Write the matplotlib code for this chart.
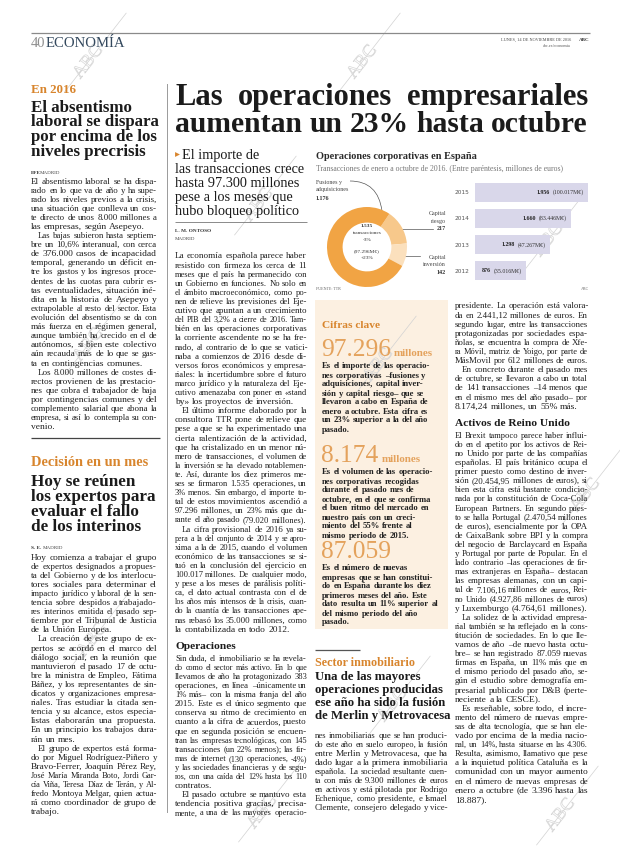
import math
import matplotlib
matplotlib.use("Agg")
import matplotlib.pyplot as plt
import matplotlib.patheffects as pe
from matplotlib.font_manager import FontProperties
from matplotlib.patches import Rectangle, PathPatch
from matplotlib.path import Path

# ------------------------------------------------------------------ data
donut_labels = ["Capital riesgo", "Capital inversión", "Fusiones y adquisiciones"]
donut_values = [217, 142, 1176]
donut_center = ["1.535", "transacciones", "-3%", "(97.296M€)", "+23%"]

bar_years = ["2012", "2013", "2014", "2015"]
bar_counts = [876, 1298, 1660, 1956]
bar_amounts = ["(35.016M€)", "(47.267M€)", "(83.446M€)", "(100.017M€)"]

chart_title = "Operaciones corporativas en España"
chart_subtitle = "Transacciones de enero a octubre de 2016. (Entre paréntesis, millones de euros)"

headline = ["Las operaciones empresariales", "aumentan un 23% hasta octubre"]
subhead = ["El importe de", "las transacciones crece", "hasta 97.300 millones",
           "pese a los meses que", "hubo bloqueo político"]

left1_kicker = "En 2016"
left1_head = ["El absentismo", "laboral se dispara", "por encima de los", "niveles precrisis"]
left1_paras = [
    ["El absentismo laboral se ha dispa-", "rado en lo que va de año y ha supe-",
     "rado los niveles previos a la crisis,", "una situación que conlleva un cos-",
     "te directo de unos 8.000 millones a", "las empresas, según Asepeyo."],
    ["Las bajas subieron hasta septiem-", "bre un 10,6% interanual, con cerca",
     "de 376.000 casos de incapacidad", "temporal, generando un déficit en-",
     "tre los gastos y los ingresos proce-", "dentes de las cuotas para cubrir es-",
     "tas eventualidades, situación iné-", "dita en la historia de Asepeyo y",
     "extrapolable al resto del sector. Esta", "evolución del absentismo se da con",
     "más fuerza en el régimen general,", "aunque también ha crecido en el de",
     "autónomos, si bien este colectivo", "aún recauda más de lo que se gas-",
     "ta en contingencias comunes."],
    ["Los 8.000 millones de costes di-", "rectos provienen de las prestacio-",
     "nes que cobra el trabajador de baja", "por contingencias comunes y del",
     "complemento salarial que abona la", "empresa, si así lo contempla su con-",
     "venio."],
]

left2_kicker = "Decisión en un mes"
left2_head = ["Hoy se reúnen", "los expertos para", "evaluar el fallo", "de los interinos"]
left2_paras = [
    ["Hoy comienza a trabajar el grupo", "de expertos designados a propues-",
     "ta del Gobierno y de los interlocu-", "tores sociales para determinar el",
     "impacto jurídico y laboral de la sen-", "tencia sobre despidos a trabajado-",
     "res interinos emitida el pasado sep-", "tiembre por el Tribunal de Justicia",
     "de la Unión Europea."],
    ["La creación de este grupo de ex-", "pertos se acordó en el marco del",
     "diálogo social, en la reunión que", "mantuvieron el pasado 17 de octu-",
     "bre la ministra de Empleo, Fátima", "Báñez, y los representantes de sin-",
     "dicatos y organizaciones empresa-", "riales. Tras estudiar la citada sen-",
     "tencia y su alcance, estos especia-", "listas elaborarán una propuesta.",
     "En un principio los trabajos dura-", "rán un mes."],
    ["El grupo de expertos está forma-", "do por Miguel Rodríguez-Piñero y",
     "Bravo-Ferrer, Joaquín Pérez Rey,", "José María Miranda Boto, Jordi Gar-",
     "cía Viña, Teresa Díaz de Terán, y Al-", "fredo Montoya Melgar, quien actua-",
     "rá como coordinador de grupo de", "trabajo."],
]

mid_paras1 = [
    ["La economía española parece haber", "resistido con firmeza los cerca de 11",
     "meses que el país ha permanecido con", "un Gobierno en funciones. No solo en",
     "el ámbito macroeconómico, como po-", "nen de relieve las previsiones del Eje-",
     "cutivo que apuntan a un crecimiento", "del PIB del 3,2% a cierre de 2016. Tam-",
     "bién en las operaciones corporativas", "la corriente ascendente no se ha fre-",
     "nado, al contrario de lo que se vatici-", "naba a comienzos de 2016 desde di-",
     "versos foros económicos y empresa-", "riales: la incertidumbre sobre el futuro",
     "marco jurídico y la naturaleza del Eje-", "cutivo amenazaba con poner en «stand",
     "by» los proyectos de inversión."],
    ["El último informe elaborado por la", "consultora TTR pone de relieve que",
     "pese a que se ha experimentado una", "cierta ralentización de la actividad,",
     "que ha cristalizado en un menor nú-", "mero de transacciones, el volumen de",
     "la inversión se ha elevado notablemen-", "te. Así, durante los diez primeros me-",
     "ses se firmaron 1.535 operaciones, un", "3% menos. Sin embargo, el importe to-",
     "tal de estos movimientos ascendió a", "97.296 millones, un 23% más que du-",
     "rante el año pasado (79.020 millones)."],
    ["La cifra provisional de 2016 ya su-", "pera a la del conjunto de 2014 y se apro-",
     "xima a la de 2015, cuando el volumen", "económico de las transacciones se si-",
     "tuó en la conclusión del ejercicio en", "100.017 millones. De cualquier modo,",
     "y pese a los meses de parálisis políti-", "ca, el dato actual contrasta con el de",
     "los años más intensos de la crisis, cuan-", "do la cuantía de las transacciones ape-",
     "nas rebasó los 35.000 millones, como", "la contabilizada en todo 2012."],
]
mid_sub = "Operaciones"
mid_paras2 = [
    ["Sin duda, el inmobiliario se ha revela-", "do como el sector más activo. En lo que",
     "llevamos de año ha protagonizado 383", "operaciones, en línea –únicamente un",
     "1% más– con la misma franja del año", "2015. Este es el único segmento que",
     "conserva su ritmo de crecimiento en", "cuanto a la cifra de acuerdos, puesto",
     "que en segunda posición se encuen-", "tran las empresas tecnológicas, con 145",
     "transacciones (un 22% menos); las fir-", "mas de internet (130 operaciones, -4%)",
     "y las sociedades financieras y de segu-", "ros, con una caída del 12% hasta los 110",
     "contratos."],
    ["El pasado octubre se mantuvo esta", "tendencia positiva gracias, precisa-",
     "mente, a una de las mayores operacio-"],
]

cifras_title = "Cifras clave"
cifras_numbers = ["97.296", "8.174", "87.059"]
cifras_units = ["millones", "millones", ""]
cifras_texts = [
    ["Es el importe de las operacio-", "nes corporativas –fusiones y",
     "adquisiciones, capital inver-", "sión y capital riesgo– que se",
     "llevaron a cabo en España de", "enero a octubre. Esta cifra es",
     "un 23% superior a la del año", "pasado."],
    ["Es el volumen de las operacio-", "nes corporativas recogidas",
     "durante el pasado mes de", "octubre, en el que se confirma",
     "el buen ritmo del mercado en", "nuestro país con un creci-",
     "miento del 55% frente al", "mismo periodo de 2015."],
    ["Es el número de nuevas", "empresas que se han constitui-",
     "do en España durante los diez", "primeros meses del año. Este",
     "dato resulta un 11% superior al", "del mismo periodo del año", "pasado."],
]

sector_kicker = "Sector inmobiliario"
sector_head = ["Una de las mayores", "operaciones producidas",
               "ese año ha sido la fusión", "de Merlin y Metrovacesa"]
sector_paras = [
    ["nes inmobiliarias que se han produci-", "do este año en suelo europeo, la fusión",
     "entre Merlin y Metrovacesa, que ha", "dado lugar a la primera inmobiliaria",
     "española. La sociedad resultante cuen-", "ta con más de 9.300 millones de euros",
     "en activos y está pilotada por Rodrigo", "Echenique, como presidente, e Ismael",
     "Clemente, consejero delegado y vice-"],
]

right_paras1 = [
    ["presidente. La operación está valora-", "da en 2.441,12 millones de euros. En",
     "segundo lugar, entre las transacciones", "protagonizadas por sociedades espa-",
     "ñolas, se encuentra la compra de Xfe-", "ra Móvil, matriz de Yoigo, por parte de",
     "MásMovil por 612 millones de euros."],
    ["En concreto durante el pasado mes", "de octubre, se llevaron a cabo un total",
     "de 141 transacciones –14 menos que", "en el mismo mes del año pasado– por",
     "8.174,24 millones, un 55% más."],
]
right_sub = "Activos de Reino Unido"
right_paras2 = [
    ["El Brexit tampoco parece haber influi-", "do en el apetito por los activos de Rei-",
     "no Unido por parte de las compañías", "españolas. El país británico ocupa el",
     "primer puesto como destino de inver-", "sión (20.454,95 millones de euros), si",
     "bien esta cifra está bastante condicio-", "nada por la constitución de Coca-Cola",
     "European Partners. En segundo pues-", "to se halla Portugal (2.470,54 millones",
     "de euros), esencialmente por la OPA", "de CaixaBank sobre BPI y la compra",
     "del negocio de Barclaycard en España", "y Portugal por parte de Popular. En el",
     "lado contrario –las operaciones de fir-", "mas extranjeras en España– destacan",
     "las empresas alemanas, con un capi-", "tal de 7.106,16 millones de euros, Rei-",
     "no Unido (4.927,86 millones de euros)", "y Luxemburgo (4.764,61 millones)."],
    ["La solidez de la actividad empresa-", "rial también se ha reflejado en la cons-",
     "titución de sociedades. En lo que lle-", "vamos de año –de nuevo hasta octu-",
     "bre– se han registrado 87.059 nuevas", "firmas en España, un 11% más que en",
     "el mismo periodo del pasado año, se-", "gún el estudio sobre demografía em-",
     "presarial publicado por D&B (perte-", "neciente a la CESCE)."],
    ["Es reseñable, sobre todo, el incre-", "mento del número de nuevas empre-",
     "sas de alta tecnología, que se han ele-", "vado por encima de la media nacio-",
     "nal, un 14%, hasta situarse en las 4.306.", "Resulta, asimismo, llamativo que pese",
     "a la inquietud política Cataluña es la", "comunidad con un mayor aumento",
     "en el número de nuevas empresas de", "enero a octubre (de 3.396 hasta las",
     "18.887)."],
]

# ------------------------------------------------------------------ style
W, H = 620, 846
BODYF = "Liberation Serif"
HEADF = "Liberation Serif"
INK = "#1b1b1b"
BODY = "#1f1f1f"
ORANGE = "#d8852d"
ORANGE_NUM = "#e4a25c"
DONUT_COLORS = ["#f7c88b", "#fbe0bd", "#f1a444"]
BAR_COLOR = "#d9d7ea"
BOX_COLOR = "#fcf0e1"
LH = 9.1
BODY_SIZE = 6.8

fig = plt.figure(figsize=(W / 100, H / 100), dpi=100)
fig.patch.set_facecolor("white")
page = fig.add_axes([0, 0, 1, 1])
page.set_xlim(0, W)
page.set_ylim(H, 0)
page.axis("off")
R = fig.canvas.get_renderer()


def fprop(size, weight="normal", family=BODYF):
    return FontProperties(family=family, size=size, weight=weight)


def tw(s, size, weight="normal", family=BODYF):
    w, h, d = R.get_text_width_height_descent(s, fprop(size, weight, family), ismath=False)
    return w


def fit(s, width, weight="normal", family=BODYF):
    return 10.0 * width / tw(s, 10.0, weight, family)


def put(x, y, s, size, weight="normal", family=BODYF, color=BODY, ha="left", va="baseline", **kw):
    return page.text(x, y, s, fontsize=size, fontweight=weight, family=family,
                     color=color, ha=ha, va=va, **kw)


def line_words(line, x0, x1, y, size, weight="normal", family=BODYF, color=BODY, justify=True):
    words = line.split(" ")
    avail = x1 - x0

    def measure(sz):
        sp = tw("n n", sz, weight, family) - tw("nn", sz, weight, family)
        return sp, [tw(w, sz, weight, family) for w in words]

    sp, ws = measure(size)
    nat = sum(ws) + sp * (len(words) - 1)
    if nat > avail:
        size = size * avail / nat
        sp, ws = measure(size)
    if justify and len(words) > 1:
        gap = (avail - sum(ws)) / (len(words) - 1)
    else:
        gap = sp
    x = x0
    for w, wd in zip(words, ws):
        put(x, y, w, size, weight, family, color)
        x += wd + gap


def column(paras, x0, x1, y0, size=BODY_SIZE, lh=LH, weight="normal", color=BODY,
           indent=7, first_indent=False, cont_end=False, justify=True):
    y = y0
    for pi, para in enumerate(paras):
        for li, line in enumerate(para):
            ind = indent if (li == 0 and (pi > 0 or first_indent)) else 0
            last = li == len(para) - 1
            j = justify and (not last or (cont_end and pi == len(paras) - 1))
            line_words(line, x0 + ind, x1, y, size, weight, BODYF, color, j)
            y += lh
    return y


def hline(x0, x1, y, color="#555555", lw=0.8):
    page.plot([x0, x1], [y, y], color=color, lw=lw, solid_capstyle="butt")


def px_axes(x0, y0, x1, y1):
    return fig.add_axes([x0 / W, 1 - y1 / H, (x1 - x0) / W, (y1 - y0) / H])


# ------------------------------------------------------------------ watermarks
for cx, cy in [(88, 62), (362, 62), (258, 205), (548, 240), (88, 345), (378, 365),
               (585, 495), (92, 640), (392, 705), (560, 815), (262, 812)]:
    ang = math.radians(52)
    dx, dy = math.cos(ang), -math.sin(ang)
    page.plot([cx - 38 * dx, cx + 62 * dx], [cy - 38 * dy, cy + 62 * dy],
              color="#d2d2d2", lw=0.5, zorder=0.5)
    page.text(cx, cy, "ABC", fontsize=13, family=HEADF, color="none", rotation=52,
              ha="center", va="center", zorder=0.5,
              path_effects=[pe.withStroke(linewidth=0.5, foreground="#d6d6d6")])

# ------------------------------------------------------------------ header
hline(31, 590, 33, color="#8a8a8a", lw=0.9)
put(31, 47, "40", 10.5, color="#8f8f8f")
put(46, 47, "ECONOMÍA", fit("ECONOMÍA", 80), color="#34495e")
put(571, 41, "LUNES, 14 DE NOVIEMBRE DE 2016", 3.1, color="#444444", ha="right")
put(589, 41, "ABC", 3.6, weight="bold", color="#333333", ha="right")
put(571, 47, "abc.es/economia", 3.1, color="#555555", ha="right")

# separator between left column and rest
page.plot([167, 167], [84, 812], color="#9a9a9a", lw=0.7)

# ------------------------------------------------------------------ left column
put(31, 93, left1_kicker, fit(left1_kicker, 45, "bold"), weight="bold", color=ORANGE)
hs = fit("laboral se dispara", 129, "bold", HEADF)
for i, l in enumerate(left1_head):
    put(31, 112 + i * 14.5, l, hs, weight="bold", family=HEADF, color=INK)
put(31, 174, "EFE", 3.8, weight="bold", color="#333333")
put(40, 174, "MADRID", 3.6, color="#444444")
column(left1_paras, 31, 157, 183.5)
hline(31, 160, 438, color="#444444", lw=0.9)
put(31, 466, left2_kicker, fit(left2_kicker, 117, "bold"), weight="bold", color=ORANGE)
hs2 = fit("los expertos para", 125, "bold", HEADF)
for i, l in enumerate(left2_head):
    put(31, 486 + i * 15, l, hs2, weight="bold", family=HEADF, color=INK)
put(31, 549, "S. E.", 3.8, weight="bold", color="#333333")
put(43, 549, "MADRID", 3.6, color="#444444")
column(left2_paras, 31, 157, 559.5)

# ------------------------------------------------------------------ main headline
fits = [fit(l, 413, "bold", HEADF) for l in headline]
hsize = sum(fits) / len(fits)
for i, l in enumerate(headline):
    line_words(l, 175, 588, 105 + i * 27.5, hsize, "bold", HEADF, INK, True)

# subhead with triangle
page.plot([176.5], [154], marker=">", ms=3.5, color=ORANGE, mec="none")
ss = fit("las transacciones crece", 130, "normal", HEADF)
for i, l in enumerate(subhead):
    put(182 if i == 0 else 175, 159 + i * 14, l, ss, family=HEADF, color=INK)
hline(175, 307, 222, color="#777777", lw=0.6)
put(175, 232, "L. M. ONTOSO", 3.8, weight="bold", color="#333333")
put(175, 240, "MADRID", 3.6, color="#444444")

yend = column(mid_paras1, 175, 307, 258.5)
put(175, yend + 8, mid_sub, 8.2, weight="bold", color=INK)
column(mid_paras2, 175, 307, yend + 20, cont_end=True)

# ------------------------------------------------------------------ chart
put(316, 159, chart_title, fit(chart_title, 162, "bold"), weight="bold", color="#2a2a2a")
put(316, 171, chart_subtitle, fit(chart_subtitle, 247), color="#777777")

dax = px_axes(327, 207, 407, 287)
dax.pie(donut_values, colors=DONUT_COLORS, startangle=56, counterclock=False,
        radius=1.0, wedgeprops=dict(width=0.39, edgecolor="none"))
dax.set_xlim(-1, 1)
dax.set_ylim(-1, 1)
dax.axis("off")

cx = 367
for txt, yy, wgt in zip(donut_center, [227, 234.5, 241, 252, 259],
                        ["bold", "normal", "normal", "normal", "normal"]):
    put(cx, yy, txt, 3.9, weight=wgt, color="#333333", ha="center")

fmt = lambda v: f"{v:,}".replace(",", ".")
put(316, 184, "Fusiones y", 4.3, color="#444444")
put(316, 191.5, "adquisiciones", 4.3, color="#444444")
put(316, 199.5, fmt(donut_values[2]), 4.3, weight="bold", color="#333333")
curve = Path([(350, 181), (378, 181), (382, 211)], [Path.MOVETO, Path.CURVE3, Path.CURVE3])
page.add_patch(PathPatch(curve, fc="none", ec="#555555", lw=0.5))
put(446, 215, "Capital", 4.3, color="#444444", ha="right")
put(446, 222.5, "riesgo", 4.3, color="#444444", ha="right")
put(446, 230.5, fmt(donut_values[0]), 4.3, weight="bold", color="#333333", ha="right")
page.plot([400, 433], [229, 229], color="#555555", lw=0.5)
put(446, 259, "Capital", 4.3, color="#444444", ha="right")
put(446, 266.5, "inversión", 4.3, color="#444444", ha="right")
put(446, 274.5, fmt(donut_values[1]), 4.3, weight="bold", color="#333333", ha="right")
page.plot([392, 420], [256, 256], color="#555555", lw=0.5)
put(316, 290, "FUENTE: TTR", 2.9, color="#666666")
put(589, 290, "ABC", 2.9, color="#666666", ha="right")

bax = px_axes(475, 179, 590.5, 284)
bax.barh(range(len(bar_counts)), bar_counts, height=0.72, color=BAR_COLOR)
bax.set_xlim(0, 2000)
bax.set_ylim(-0.5, len(bar_counts) - 0.5)
bax.set_yticks(range(len(bar_years)), bar_years)
bax.tick_params(axis="y", length=0, pad=4, labelsize=4.2, labelcolor="#555555")
bax.tick_params(axis="x", length=0, labelbottom=False)
for sp_ in bax.spines.values():
    sp_.set_visible(False)
bax.patch.set_alpha(0)
for i, (c, a) in enumerate(zip(bar_counts, bar_amounts)):
    fs = 4.2
    wa = tw(a, fs)
    bax.annotate(a, (c, i), xytext=(-3, 0), textcoords="offset points", ha="right",
                 va="center", fontsize=fs, family=BODYF, color="#333333")
    bax.annotate(fmt(c), (c, i), xytext=(-3 - (wa + 2.5) * 0.72, 0), textcoords="offset points",
                 ha="right", va="center", fontsize=fs, family=BODYF, fontweight="bold",
                 color="#222222")

# ------------------------------------------------------------------ cifras clave box
page.add_patch(Rectangle((315, 300), 133, 329, fc=BOX_COLOR, ec="none", zorder=0.2))
put(322, 328, cifras_title, fit(cifras_title, 58, "bold"), weight="bold", color=ORANGE)
nsz = fit(cifras_numbers[0], 70)
num_y = [356, 462, 558]
txt_y = [368.5, 474.5, 570.5]
for n, u, t, ny, ty in zip(cifras_numbers, cifras_units, cifras_texts, num_y, txt_y):
    put(321, ny, n, nsz, color=ORANGE_NUM)
    if u:
        put(322 + tw(n, nsz) + 2, ny, u, fit("millones", 39, "bold"), weight="bold",
            color=ORANGE_NUM)
    column([t], 322, 446, ty, size=6.2, lh=9.0, weight="bold", color="#222222", justify=False)

# ------------------------------------------------------------------ sector inmobiliario
hline(315, 360, 650, color="#555555", lw=0.9)
put(315, 666, sector_kicker, fit(sector_kicker, 100, "bold"), weight="bold", color=ORANGE)
shs = fit("ese año ha sido la fusión", 131, "bold", HEADF)
for i, l in enumerate(sector_head):
    put(315, 680 + i * 13, l, shs, weight="bold", family=HEADF, color=INK)
column(sector_paras, 315, 448, 737.5, cont_end=True)

# ------------------------------------------------------------------ right column
yend = column(right_paras1, 455, 588, 308.5)
put(455, yend + 8, right_sub, 8.2, weight="bold", color=INK)
column(right_paras2, 455, 588, yend + 20)

fig.savefig("out.png", dpi=100, facecolor="white")
